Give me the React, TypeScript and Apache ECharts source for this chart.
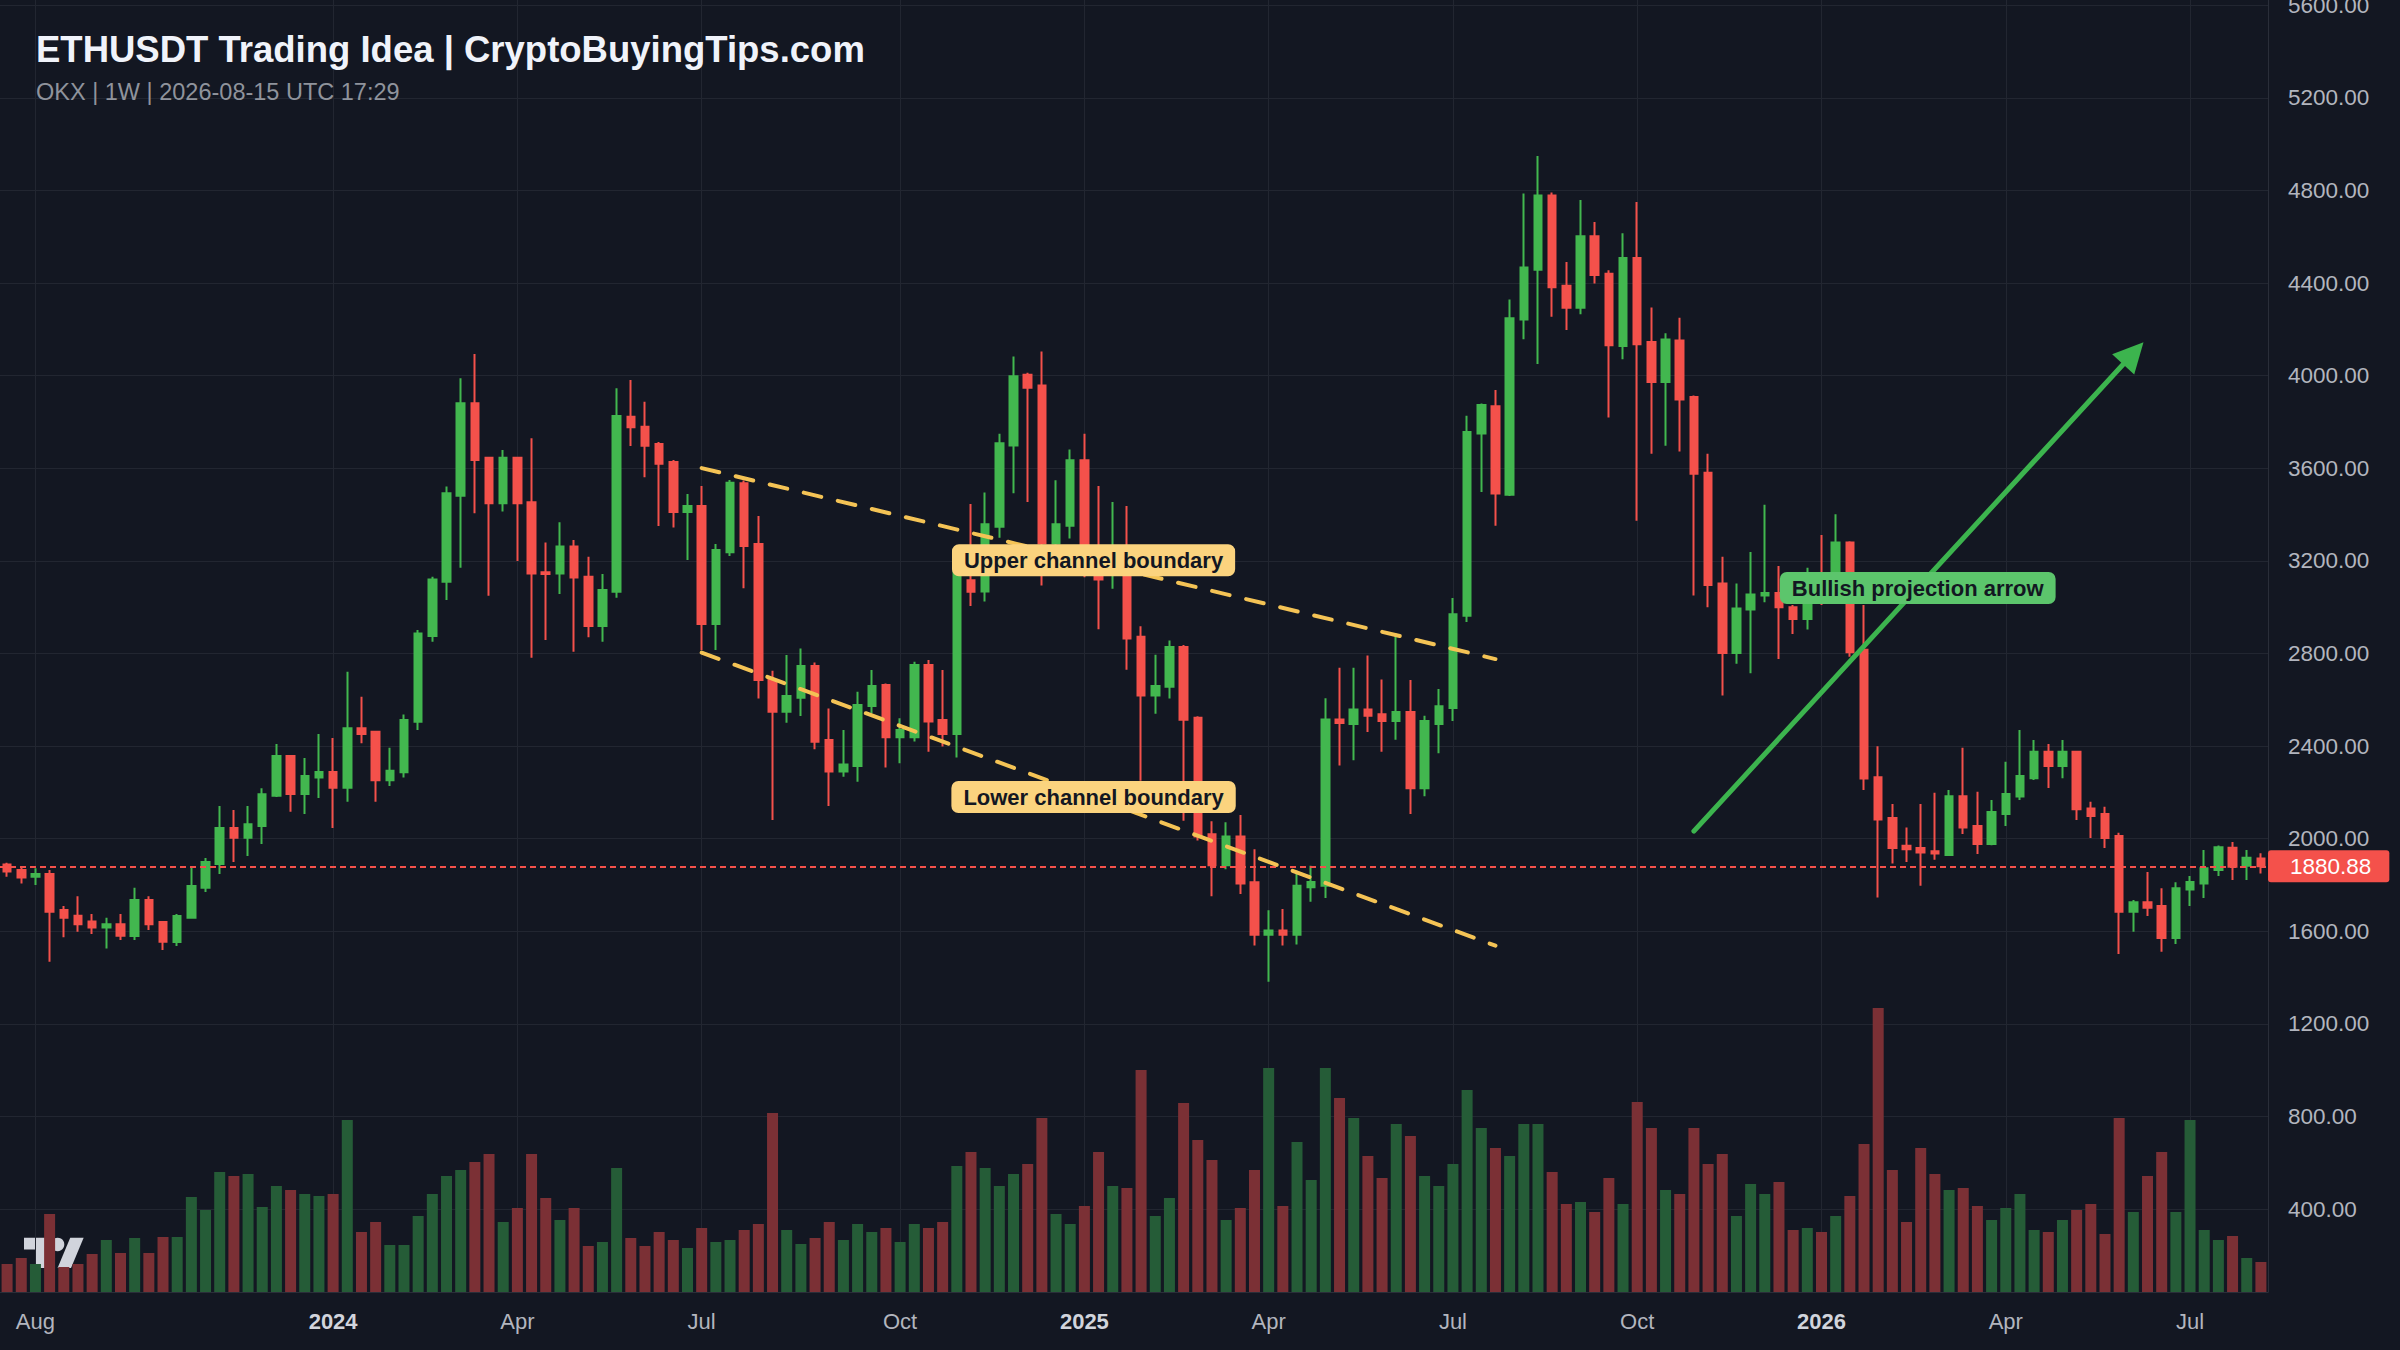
import React, { useEffect, useRef } from "react";
import * as echarts from "echarts";

// ---------- data ----------
const START_DATE_UTC = Date.UTC(2023, 6, 24); // first weekly candle (Mon 2023-07-24)
const WEEK_COUNT = 160;

const X_TICK_DATES = [
  "2023-08-07", "2024-01-01", "2024-04-01", "2024-07-01", "2024-10-07", "2025-01-06",
  "2025-04-07", "2025-07-07", "2025-10-06", "2026-01-05", "2026-04-06", "2026-07-06",
];
const X_TICK_LABELS = ["Aug", "2024", "Apr", "Jul", "Oct", "2025", "Apr", "Jul", "Oct", "2026", "Apr", "Jul"];
const Y_TICKS = [400, 800, 1200, 1600, 2000, 2400, 2800, 3200, 3600, 4000, 4400, 4800, 5200, 5600];

const OPEN = [
  1889, 1865, 1836, 1848, 1692, 1667, 1642, 1617, 1631, 1580,
  1735, 1640, 1554, 1659, 1788, 1891, 2046, 2004, 2055, 2186,
  2357, 2193, 2265, 2288, 2220, 2477, 2462, 2253, 2287, 2505,
  2876, 3110, 3482, 3881, 3646, 3449, 3646, 3453, 3151, 3146,
  3262, 3132, 2919, 3067, 3823, 3780, 3705, 3627, 3411, 3437,
  2928, 3238, 3535, 3273, 2686, 2549, 2609, 2746, 2426, 2290,
  2314, 2573, 2664, 2438, 2438, 2750, 2513, 2452, 3117, 3068,
  3348, 3699, 4004, 3958, 3275, 3352, 3635, 3200, 3150, 3240,
  2872, 2619, 2656, 2828, 2523, 2019, 1885, 2010, 1812, 1585,
  1604, 1585, 1790, 1797, 2515, 2496, 2558, 2538, 2508, 2547,
  2218, 2496, 2565, 2963, 3750, 3868, 3486, 4243, 4458, 4778,
  4389, 4294, 4602, 4440, 4128, 4509, 4146, 3973, 4152, 3908,
  3581, 3102, 2802, 2990, 3051, 3061, 3000, 2949, 3120, 3070,
  3280, 2816, 2266, 2089, 1970, 1960, 1946, 1930, 2184, 2055,
  1977, 2107, 2182, 2261, 2376, 2314, 2376, 2131, 2107, 2012,
  1685, 1726, 1709, 1571, 1781, 1807, 1865, 1961, 1883, 1915,
];
const HIGH = [
  1896, 1879, 1872, 1865, 1709, 1752, 1675, 1659, 1675, 1788,
  1752, 1645, 1675, 1873, 1917, 2141, 2124, 2141, 2218, 2409,
  2360, 2349, 2452, 2435, 2721, 2613, 2466, 2393, 2537, 2902,
  3132, 3521, 3989, 4094, 3650, 3679, 3650, 3730, 3280, 3367,
  3290, 3218, 3143, 3946, 3982, 3888, 3714, 3636, 3489, 3524,
  3273, 3550, 3547, 3394, 2726, 2794, 2822, 2761, 2563, 2470,
  2635, 2729, 2671, 2520, 2765, 2772, 2729, 3190, 3446, 3496,
  3749, 4083, 4013, 4105, 3548, 3681, 3749, 3524, 3455, 3437,
  2918, 2795, 2856, 2837, 2529, 2075, 2071, 2102, 1955, 1691,
  1696, 1862, 1883, 2607, 2739, 2739, 2792, 2688, 2889, 2686,
  2531, 2647, 3040, 3827, 3880, 3938, 4329, 4787, 4949, 4792,
  4491, 4759, 4664, 4456, 4615, 4750, 4295, 4183, 4250, 3915,
  3663, 3218, 3102, 3239, 3443, 3178, 3010, 3170, 3312, 3402,
  3285, 3010, 2399, 2150, 2048, 2150, 2199, 2210, 2393, 2203,
  2167, 2333, 2470, 2426, 2409, 2426, 2380, 2160, 2138, 2026,
  1735, 1856, 1786, 1812, 1839, 1951, 1971, 1986, 1951, 1937,
];
const LOW = [
  1836, 1807, 1800, 1469, 1574, 1598, 1588, 1526, 1562, 1562,
  1606, 1519, 1537, 1659, 1770, 1848, 1899, 1925, 1977, 2180,
  2117, 2107, 2176, 2046, 2160, 2412, 2160, 2228, 2264, 2470,
  2851, 3031, 3171, 3406, 3050, 3413, 3200, 2782, 2858, 3057,
  2808, 2870, 2851, 3041, 3696, 3561, 3351, 3344, 3204, 2815,
  2815, 3221, 3082, 2606, 2081, 2501, 2530, 2386, 2141, 2268,
  2246, 2542, 2308, 2326, 2420, 2376, 2398, 2351, 3005, 3025,
  3300, 3492, 3455, 3094, 3200, 3297, 3130, 2905, 3080, 2730,
  2250, 2540, 2606, 2078, 1992, 1752, 1868, 1761, 1539, 1382,
  1539, 1543, 1728, 1744, 2316, 2339, 2461, 2376, 2427, 2107,
  2184, 2369, 2508, 2936, 3498, 3352, 3480, 4158, 4051, 4255,
  4197, 4266, 4398, 3820, 4071, 3373, 3663, 3698, 3673, 3051,
  3000, 2619, 2756, 2715, 3021, 2776, 2884, 2904, 3010, 3040,
  2786, 2211, 1746, 1893, 1899, 1797, 1909, 1927, 2020, 1934,
  1972, 2055, 2167, 2254, 2219, 2261, 2081, 2003, 1960, 1502,
  1598, 1666, 1512, 1545, 1709, 1744, 1839, 1822, 1822, 1850,
];
const CLOSE = [
  1858, 1832, 1848, 1685, 1659, 1631, 1616, 1631, 1581, 1735,
  1631, 1555, 1666, 1796, 1899, 2046, 2004, 2062, 2192, 2357,
  2193, 2271, 2288, 2220, 2477, 2452, 2253, 2294, 2513, 2887,
  3120, 3492, 3881, 3636, 3449, 3646, 3449, 3146, 3144, 3262,
  3128, 2919, 3074, 3826, 3777, 3698, 3620, 3411, 3437, 2928,
  3247, 3538, 3264, 2686, 2549, 2616, 2746, 2419, 2290, 2321,
  2578, 2660, 2438, 2470, 2750, 2506, 2452, 3182, 3067, 3358,
  3708, 3998, 3948, 3275, 3358, 3635, 3180, 3120, 3230, 2865,
  2619, 2660, 2828, 2514, 2010, 1885, 2010, 1807, 1585, 1604,
  1585, 1797, 1813, 2515, 2500, 2558, 2531, 2508, 2547, 2218,
  2508, 2572, 2970, 3757, 3873, 3491, 4248, 4468, 4778, 4382,
  4294, 4602, 4435, 4132, 4509, 4136, 3973, 4156, 3897, 3577,
  3096, 2802, 2994, 3055, 3061, 3000, 2949, 3010, 3040, 3280,
  2806, 2260, 2083, 1960, 1954, 1940, 1936, 2184, 2048, 1977,
  2115, 2193, 2271, 2376, 2314, 2376, 2127, 2098, 2003, 1685,
  1726, 1702, 1571, 1786, 1813, 1872, 1963, 1879, 1918, 1880.88,
];
// weekly volume, relative units
const VOLUME = [
  28, 34, 28, 78, 25, 28, 38, 52, 39, 54,
  39, 55, 55, 95, 82, 120, 116, 118, 85, 106,
  102, 98, 96, 98, 172, 60, 70, 47, 47, 76,
  98, 116, 122, 130, 138, 70, 84, 138, 94, 72,
  84, 46, 50, 124, 54, 46, 60, 52, 44, 64,
  50, 52, 62, 68, 179, 62, 48, 54, 70, 52,
  68, 60, 64, 50, 68, 64, 70, 126, 140, 124,
  106, 118, 128, 174, 78, 68, 86, 140, 106, 104,
  222, 76, 94, 189, 152, 132, 72, 84, 122, 224,
  86, 150, 112, 224, 194, 174, 136, 114, 168, 156,
  116, 106, 128, 202, 164, 144, 136, 168, 168, 120,
  88, 90, 80, 114, 88, 190, 164, 102, 98, 164,
  128, 138, 76, 108, 98, 110, 62, 64, 60, 76,
  96, 148, 284, 122, 70, 144, 118, 102, 104, 86,
  72, 84, 98, 62, 60, 72, 82, 88, 58, 174,
  80, 116, 140, 80, 172, 62, 52, 56, 34, 30,
];

const LAST_PRICE = 1880.88;
// annotation anchors: [week index, price]
const UPPER_CHANNEL = [[49, 3601], [105, 2776]];
const LOWER_CHANNEL = [[49, 2804], [105, 1538]];
const BULL_ARROW = [[119, 2033], [150, 4097]];
const UPPER_LABEL_AT = [77, 3203];
const LOWER_LABEL_AT = [77, 2180];
const BULL_LABEL_AT = [135, 3083];

// ---------- styles ----------
const FONT = '"Liberation Sans", Arial, Helvetica, sans-serif';
const BG = "#131722";
const GRID_COLOR = "#222631";
const UP = "#42b74f";
const DOWN = "#f4514b";
const VOL_UP = "#255c37";
const VOL_DOWN = "#7b3035";
const CHANNEL = "#f4c355";
const LABEL_YELLOW = "#fbd37e";
const ARROW_GREEN = "#3cb44e";
const LABEL_GREEN = "#5cc56c";

export default function App() {
  const ref = useRef<HTMLDivElement>(null);

  useEffect(() => {
    document.body.style.margin = "0";
    document.body.style.background = BG;
    if (!ref.current) return;
    const chart = echarts.init(ref.current, undefined, { renderer: "svg" });

    const dates = Array.from({ length: WEEK_COUNT }, (_, i) =>
      new Date(START_DATE_UTC + i * 7 * 86400000).toISOString().slice(0, 10)
    );
    const tickIdx = X_TICK_DATES.map((d) => dates.indexOf(d));
    const tickLabel: Record<number, string> = {};
    tickIdx.forEach((idx, k) => (tickLabel[idx] = X_TICK_LABELS[k]));

    const candleData = dates.map((_, i) => [OPEN[i], CLOSE[i], LOW[i], HIGH[i]]);
    const volData = dates.map((_, i) => ({
      value: VOLUME[i],
      itemStyle: { color: CLOSE[i] >= OPEN[i] ? VOL_UP : VOL_DOWN },
    }));

    const labelStyle = (bg: string) => ({
      show: true,
      backgroundColor: bg,
      color: "#131722",
      fontFamily: FONT,
      fontSize: 22,
      fontWeight: "bold" as const,
      lineHeight: 22,
      padding: [5, 12, 5, 12],
      borderRadius: 7,
    });

    const option: any = {
      animation: false,
      backgroundColor: BG,
      textStyle: { fontFamily: FONT },
      grid: { left: 0, right: 132, top: 0, bottom: 58, containLabel: false, outerBoundsMode: "none" },
      xAxis: {
        type: "category",
        data: dates,
        boundaryGap: true,
        axisLine: { show: true, lineStyle: { color: "#2a2e39", width: 1 } },
        axisTick: { show: false },
        splitLine: { show: false },
        axisLabel: {
          interval: (i: number) => tickLabel[i] !== undefined,
          formatter: (_v: string, i: number) => {
            const t = tickLabel[i] || "";
            return /^\d{4}$/.test(t) ? `{y|${t}}` : `{m|${t}}`;
          },
          margin: 18,
          rich: {
            y: { fontFamily: FONT, fontSize: 22, fontWeight: "bold", color: "#d1d4dc" },
            m: { fontFamily: FONT, fontSize: 22, color: "#b2b5be" },
          },
        },
      },
      yAxis: [
        {
          type: "value",
          position: "right",
          min: 42,
          max: 5623,
          axisLine: { show: true, lineStyle: { color: "#2a2e39" } },
          axisTick: { show: false, customValues: Y_TICKS },
          splitLine: { show: false },
          axisLabel: {
            customValues: Y_TICKS,
            formatter: (v: number) => v.toFixed(2),
            color: "#b2b5be",
            fontFamily: FONT,
            fontSize: 22.5,
            margin: 20,
          },
        },
        { type: "value", min: 0, max: 1292, show: false },
      ],
      series: [
        {
          type: "line",
          name: "grid",
          yAxisIndex: 0,
          data: [],
          silent: true,
          markLine: {
            silent: true,
            z: 1,
            symbol: ["none", "none"],
            label: { show: false },
            lineStyle: { color: GRID_COLOR, width: 1, type: "solid" },
            data: [
              ...Y_TICKS.map((v) => ({ yAxis: v })),
              ...tickIdx.map((i) => ({ xAxis: i })),
            ],
          },
        },
        {
          type: "bar",
          name: "Volume",
          yAxisIndex: 1,
          data: volData,
          barWidth: 11,
          silent: true,
          z: 2,
        },
        {
          type: "candlestick",
          name: "ETHUSDT",
          yAxisIndex: 0,
          data: candleData,
          barWidth: 8,
          silent: true,
          z: 3,
          itemStyle: {
            color: UP,
            color0: DOWN,
            borderColor: UP,
            borderColor0: DOWN,
            borderWidth: 2,
          },
          markLine: {
            silent: true,
            z: 6,
            symbol: ["none", "none"],
            label: { show: false },
            data: [
              {
                yAxis: LAST_PRICE,
                lineStyle: { color: DOWN, width: 2, type: [6, 4] },
                label: {
                  show: true,
                  position: "end",
                  distance: 0,
                  formatter: LAST_PRICE.toFixed(2),
                  backgroundColor: DOWN,
                  color: "#ffffff",
                  fontFamily: FONT,
                  fontSize: 22.5,
                  lineHeight: 22,
                  padding: [5, 18, 5, 22],
                  borderRadius: 3,
                },
              },
              [
                { coord: UPPER_CHANNEL[0], lineStyle: { color: CHANNEL, width: 4, type: [18, 17], cap: "round" } },
                { coord: UPPER_CHANNEL[1] },
              ],
              [
                { coord: LOWER_CHANNEL[0], lineStyle: { color: CHANNEL, width: 4, type: [18, 17], cap: "round" } },
                { coord: LOWER_CHANNEL[1] },
              ],
              [
                { coord: BULL_ARROW[0], symbol: "none", lineStyle: { color: ARROW_GREEN, width: 5, type: "solid", cap: "round" } },
                { coord: BULL_ARROW[1], symbol: "triangle", symbolSize: [30, 30], itemStyle: { color: ARROW_GREEN } },
              ],
            ],
          },
          markPoint: {
            silent: true,
            z: 7,
            symbol: "circle",
            symbolSize: 0,
            itemStyle: { color: "transparent" },
            data: [
              { coord: UPPER_LABEL_AT, label: { ...labelStyle(LABEL_YELLOW), formatter: "Upper channel boundary", offset: [-5, 0] } },
              { coord: LOWER_LABEL_AT, label: { ...labelStyle(LABEL_YELLOW), formatter: "Lower channel boundary", offset: [-5, 0] } },
              { coord: BULL_LABEL_AT, label: { ...labelStyle(LABEL_GREEN), formatter: "Bullish projection arrow", offset: [-3, 0] } },
            ],
          },
        },
      ],
      graphic: [
        {
          type: "text",
          z: 100,
          style: {
            x: 36,
            y: 49,
            text: "ETHUSDT Trading Idea | CryptoBuyingTips.com",
            fill: "#f0f3fa",
            font: `bold 36.5px ${FONT}`,
            verticalAlign: "middle",
          },
        },
        {
          type: "text",
          z: 100,
          style: {
            x: 36,
            y: 92,
            text: "OKX | 1W | 2026-08-15 UTC 17:29",
            fill: "#8f939c",
            font: `23.5px ${FONT}`,
            verticalAlign: "middle",
          },
        },
        {
          type: "group",
          x: 24,
          y: 1231,
          scaleX: 1.68,
          scaleY: 1.68,
          z: 100,
          children: [
            { type: "polygon", shape: { points: [[0, 4], [14, 4], [14, 22], [7, 22], [7, 11], [0, 11]] }, style: { fill: "#d1d4dc" } },
            { type: "circle", shape: { cx: 20, cy: 8, r: 4 }, style: { fill: "#d1d4dc" } },
            { type: "polygon", shape: { points: [[20, 22], [27.5, 4], [35.5, 4], [28, 22]] }, style: { fill: "#d1d4dc" } },
          ],
        },
      ],
    };

    chart.setOption(option);
    return () => chart.dispose();
  }, []);

  return (
    <div
      ref={ref}
      style={{ position: "fixed", left: 0, top: 0, width: 2400, height: 1350, background: BG }}
    />
  );
}
